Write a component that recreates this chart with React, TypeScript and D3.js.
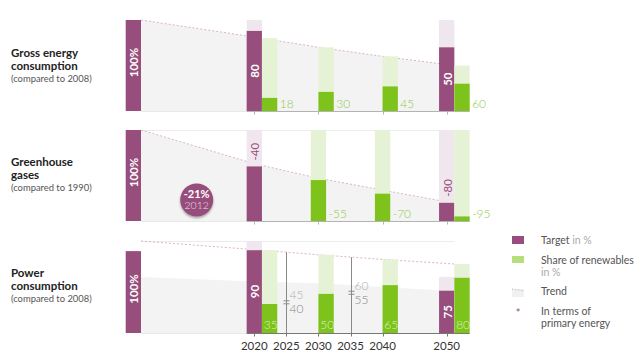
import React from 'react';
import * as d3 from 'd3';

// ---------- data ----------
const axisYears = [2020, 2025, 2030, 2035, 2040, 2050];
const panelTickYears = [2020, 2030, 2040, 2050];

// Panel 1: gross energy consumption
const gecTitle = ['Gross energy', 'consumption'];
const gecNote = '(compared to 2008)';
const gecTargetYears = [2020, 2050];
const gecTargetLabels = ['80', '50'];
const gecTargetLevels = [88, 70];
const gecTargetColumns = [100, 100];
const gecShareYears = [2020, 2030, 2040, 2050];
const gecShareValues = [18, 30, 45, 60];
const gecTrendValues = [80, 70, 60, 50];

// Panel 2: greenhouse gases
const ghgTitle = ['Greenhouse', 'gases'];
const ghgNote = '(compared to 1990)';
const ghgTargetYears = [2020, 2050];
const ghgTargetValues = [-40, -80];
const ghgShareYears = [2030, 2040, 2050];
const ghgShareValues = [-55, -70, -95];
const ghgTrendYears = [2020, 2030, 2040, 2050];
const ghgTrendValues = [63, 47, 34, 21];
const ghgBadgeValue = '-21%';
const ghgBadgeYear = '2012';

// Panel 3: power consumption
const pcTitle = ['Power', 'consumption'];
const pcNote = '(compared to 2008)';
const pcRefLevel = 89;
const pcTargetYears = [2020, 2050];
const pcTargetLabels = ['90', '75'];
const pcTargetLevels = [90, 46];
const pcTargetColumns = [100, 61];
const pcShareYears = [2020, 2030, 2040, 2050];
const pcShareValues = [35, 50, 65, 80];
const pcTrendValues = [90, 85, 80, 75];
const pcRangeYears = [2025, 2035];
const pcRangeLow = [40, 55];
const pcRangeHigh = [45, 60];
const pcRangeTrend = [87.5, 82.5];
const pcConsumptionYears = [2020, 2030, 2040, 2050];
const pcConsumptionStart = 61;
const pcConsumptionValues = [56, 54, 50, 46];

// Legend
const legendItems = ['Target', 'Share of renewables', 'Trend', 'In terms of'];

// ---------- style ----------
const PURPLE = '#974e7c';
const PINK = '#f0e6ed';
const GREEN = '#7dc31c';
const LIGHTGREEN = '#e5f2d5';
const GREENTEXT = '#92c94a';
const GRAYAREA = '#f3f3f3';
const DASH = '#d8b5ca';
const FONT = 'Lato, "Open Sans", sans-serif';

const BW = 15.3;
const REF_X = 125.7;
const REF_R = REF_X + BW;
const xScale = d3.scaleLinear().domain([2020, 2050]).range([254.3, 446.7]);

type Panel = {
  top: number;
  base: number;
  refLevel: number;
  title: string[];
  note: string;
  titleY: number;
  targetYears: number[];
  targetLevels: number[];
  targetColumns: number[];
  targetLabels: string[];
  targetLabelInside: boolean;
  shareYears: number[];
  shareBar: number[];
  shareCol: number[];
  shareLabels: string[];
  shareCentered: boolean;
  shareLabelInside: boolean;
  trend: [number, number][];
  area: [number, number][] | null;
  topLine: boolean;
  axisColor: string;
  ticks: number[];
};

const hasTarget = (p: Panel, yr: number) => p.targetYears.includes(yr);
const shareX = (p: Panel, yr: number) => {
  const c = xScale(yr);
  if (hasTarget(p, yr)) return c + BW / 2;
  return p.shareCentered ? c - BW / 2 : c;
};

const panels: Panel[] = [
  {
    top: 20, base: 111, refLevel: 100, title: gecTitle, note: gecNote, titleY: 57,
    targetYears: gecTargetYears, targetLevels: gecTargetLevels, targetColumns: gecTargetColumns,
    targetLabels: gecTargetLabels, targetLabelInside: true,
    shareYears: gecShareYears,
    shareBar: gecShareValues.map((v, i) => (v * gecTrendValues[i]) / 100),
    shareCol: gecTrendValues,
    shareLabels: gecShareValues.map(String), shareCentered: false, shareLabelInside: false,
    trend: [], area: null, topLine: false, axisColor: '#b3b3b3', ticks: panelTickYears,
  },
  {
    top: 130, base: 221, refLevel: 100, title: ghgTitle, note: ghgNote, titleY: 166,
    targetYears: ghgTargetYears, targetLevels: ghgTargetValues.map((v) => 100 + v),
    targetColumns: ghgTargetValues.map(() => 100),
    targetLabels: ghgTargetValues.map(String), targetLabelInside: false,
    shareYears: ghgShareYears,
    shareBar: ghgShareValues.map((v) => 100 + v),
    shareCol: ghgShareValues.map(() => 100),
    shareLabels: ghgShareValues.map(String), shareCentered: true, shareLabelInside: false,
    trend: [], area: null, topLine: true, axisColor: '#b3b3b3', ticks: panelTickYears,
  },
  {
    top: 241, base: 333, refLevel: pcRefLevel, title: pcTitle, note: pcNote, titleY: 277,
    targetYears: pcTargetYears, targetLevels: pcTargetLevels, targetColumns: pcTargetColumns,
    targetLabels: pcTargetLabels, targetLabelInside: true,
    shareYears: pcShareYears,
    shareBar: pcShareValues.map((v, i) => (v * pcTrendValues[i]) / 100),
    shareCol: pcTrendValues,
    shareLabels: pcShareValues.map(String), shareCentered: false, shareLabelInside: true,
    trend: [], area: null, topLine: true, axisColor: '#777', ticks: axisYears,
  },
];

// trends
panels[0].trend = [[REF_R, 100], ...gecShareYears.map((y, i) => [shareX(panels[0], y), gecTrendValues[i]] as [number, number])];
panels[0].area = panels[0].trend;
panels[1].trend = [[REF_R, 100], ...ghgTrendYears.map((y, i) => [xScale(y), ghgTrendValues[i]] as [number, number])];
panels[1].area = panels[1].trend;
panels[2].trend = [[REF_R, 100], ...pcShareYears.map((y, i) => [shareX(panels[2], y), pcTrendValues[i]] as [number, number])];
panels[2].area = [[REF_R, pcConsumptionStart], ...pcConsumptionYears.map((y, i) => [xScale(y), pcConsumptionValues[i]] as [number, number])];

function PanelView({ p, idx }: { p: Panel; idx: number }) {
  const y = d3.scaleLinear().domain([0, 100]).range([p.base, p.top]);
  const line = d3.line<[number, number]>().x((d) => d[0]).y((d) => y(d[1]));
  const area = d3.area<[number, number]>().x((d) => d[0]).y0(p.base).y1((d) => y(d[1]));
  const axisL = xScale(2020) - BW / 2;
  const axisR = xScale(2050) + BW / 2 + BW;
  return (
    <g>
      {/* titles */}
      <text x={11} y={p.titleY} fontFamily={FONT} fontWeight={700} fontSize={11.5} fill="#222">{p.title[0]}</text>
      <text x={11} y={p.titleY + 12.8} fontFamily={FONT} fontWeight={700} fontSize={11.5} fill="#222">{p.title[1]}</text>
      <text x={11} y={p.titleY + 25.3} fontFamily={FONT} fontSize={9.4} fill="#555">{p.note}</text>

      {p.area && <path d={area(p.area) || ''} fill={GRAYAREA} />}
      {p.topLine && <line x1={REF_R} x2={xScale(2050) + BW / 2} y1={p.top + 0.5} y2={p.top + 0.5} stroke="#ececec" />}
      <line x1={REF_R} x2={axisL} y1={p.base + 0.5} y2={p.base + 0.5} stroke="#e8e8e8" />
      <path d={line(p.trend) || ''} fill="none" stroke={DASH} strokeWidth={1} strokeDasharray="2,2" />

      {/* reference bar */}
      <rect x={REF_X} y={y(p.refLevel)} width={BW} height={p.base - y(p.refLevel)} fill={PURPLE} />
      <text transform={`translate(${REF_X + BW / 2 + 0.5},${(y(p.refLevel) + p.base) / 2 - 3}) rotate(-90)`}
        textAnchor="middle" dominantBaseline="central" fontFamily={FONT} fontWeight={700} fontSize={11.5} fill="#fff">100%</text>

      {/* target columns + bars */}
      {p.targetYears.map((yr, i) => {
        const x = xScale(yr) - BW / 2;
        const top = y(p.targetLevels[i]);
        return (
          <g key={'t' + yr}>
            <rect x={x} y={y(p.targetColumns[i])} width={BW} height={top - y(p.targetColumns[i])} fill={PINK} />
            <rect x={x} y={top} width={BW} height={p.base - top} fill={PURPLE} />
            {p.targetLabelInside ? (
              <text transform={`translate(${x + BW / 2 + 0.5},${(top + p.base) / 2}) rotate(-90)`}
                textAnchor="middle" dominantBaseline="central" fontFamily={FONT} fontWeight={700} fontSize={11.5} fill="#fff">{p.targetLabels[i]}</text>
            ) : (
              <text transform={`translate(${x + BW / 2 + 0.5},${top - 6}) rotate(-90)`}
                textAnchor="start" dominantBaseline="central" fontFamily={FONT} fontSize={11.5} fill={PURPLE}>{p.targetLabels[i]}</text>
            )}
          </g>
        );
      })}

      {/* share columns + bars */}
      {p.shareYears.map((yr, i) => {
        const x = shareX(p, yr);
        const colTop = y(p.shareCol[i]);
        const top = y(p.shareBar[i]);
        return (
          <g key={'s' + yr}>
            <rect x={x} y={colTop} width={BW} height={p.base - colTop} fill={LIGHTGREEN} />
            <rect x={x} y={top} width={BW} height={p.base - top} fill={GREEN} />
            {p.shareLabelInside ? (
              <text x={x + 1.8} y={p.base - 3.6} fontFamily={FONT} fontWeight={300} fontSize={12} fill="#dcf2bd">{p.shareLabels[i]}</text>
            ) : (
              <text x={x + BW + 2.5} y={p.base - 3.5} fontFamily={FONT} fontWeight={300} fontSize={12} fill={GREENTEXT}>{p.shareLabels[i]}</text>
            )}
          </g>
        );
      })}

      {/* axis */}
      <line x1={axisL} x2={axisR} y1={p.base + 0.5} y2={p.base + 0.5} stroke={p.axisColor} />
      {p.ticks.map((t) => (
        <line key={'k' + t} x1={Math.round(xScale(t)) + 0.5} x2={Math.round(xScale(t)) + 0.5} y1={p.base} y2={p.base + 3.5} stroke={p.axisColor} />
      ))}

      {idx === 1 && (
        <g>
          <defs>
            <filter id="badgeShadow" x="-50%" y="-50%" width="200%" height="200%">
              <feDropShadow dx="0" dy="1.5" stdDeviation="1.3" floodColor="#000" floodOpacity="0.35" />
            </filter>
          </defs>
          <circle cx={196.7} cy={200} r={16.5} fill={PURPLE} filter="url(#badgeShadow)" />
          <text x={196.7} y={197.5} textAnchor="middle" fontFamily={FONT} fontWeight={700} fontSize={11} fill="#fff">{ghgBadgeValue}</text>
          <text x={196.7} y={208.5} textAnchor="middle" fontFamily={FONT} fontWeight={300} fontSize={10.5} fill="#f1dcea">{ghgBadgeYear}</text>
        </g>
      )}

      {idx === 2 && (
        <g>
          {pcRangeYears.map((yr, i) => {
            const x = Math.round(xScale(yr)) + 0.5;
            const interp = d3.scaleLinear().domain(p.trend.slice(1).map((d) => d[0])).range(p.trend.slice(1).map((d) => d[1]));
            const topY = y(interp(x));
            const my = y((pcRangeLow[i] * pcRangeTrend[i]) / 100) + 1.5;
            return (
              <g key={'r' + yr}>
                <line x1={x} x2={x} y1={topY} y2={p.base} stroke="#8a8a8a" />
                <line x1={x - 3} x2={x + 3} y1={my - 1.5} y2={my - 1.5} stroke="#8a8a8a" />
                <line x1={x - 3} x2={x + 3} y1={my + 1.5} y2={my + 1.5} stroke="#8a8a8a" />
                <text x={x + 3} y={my - 3} fontFamily={FONT} fontWeight={300} fontSize={12} fill="#b0b0b0">{pcRangeHigh[i]}</text>
                <text x={x + 3} y={my + 11} fontFamily={FONT} fontWeight={300} fontSize={12} fill="#888">{pcRangeLow[i]}</text>
              </g>
            );
          })}
          {axisYears.map((t) => (
            <text key={'a' + t} x={xScale(t)} y={350} textAnchor="middle" fontFamily={FONT} fontSize={11.5} fill="#333">{t}</text>
          ))}
        </g>
      )}
    </g>
  );
}

function Legend() {
  const lx = 512;
  const tx = 541;
  const fs = 10.5;
  return (
    <g fontFamily={FONT} fontSize={fs}>
      <rect x={lx} y={236} width={12} height={8} fill={PURPLE} />
      <text x={tx} y={243.5} fill="#555">{legendItems[0]}<tspan fill="#aaa"> in %</tspan></text>
      <rect x={lx} y={256} width={12} height={7} fill="#b6de7a" />
      <text x={tx} y={263.5} fill="#555">{legendItems[1]}</text>
      <text x={tx} y={275.5} fill="#aaa">in %</text>
      <rect x={lx} y={289} width={12} height={8} fill="#f1f1f1" />
      <line x1={lx} x2={lx + 12} y1={289} y2={291} stroke={DASH} strokeDasharray="1.5,1.5" />
      <text x={tx} y={294.5} fill="#555">{legendItems[2]}</text>
      <text x={lx + 6} y={317} textAnchor="middle" fill={PURPLE} fontSize={11}>*</text>
      <text x={tx} y={314.5} fill="#555">{legendItems[3]}</text>
      <text x={tx} y={326.5} fill="#555">primary energy</text>
    </g>
  );
}

export default function App() {
  return (
    <svg width={640} height={359} style={{ position: 'absolute', left: 0, top: 0, background: '#fff' }}>
      <rect x={0} y={0} width={640} height={359} fill="#fff" />
      {panels.map((p, i) => (
        <PanelView key={i} p={p} idx={i} />
      ))}
      <Legend />
    </svg>
  );
}
